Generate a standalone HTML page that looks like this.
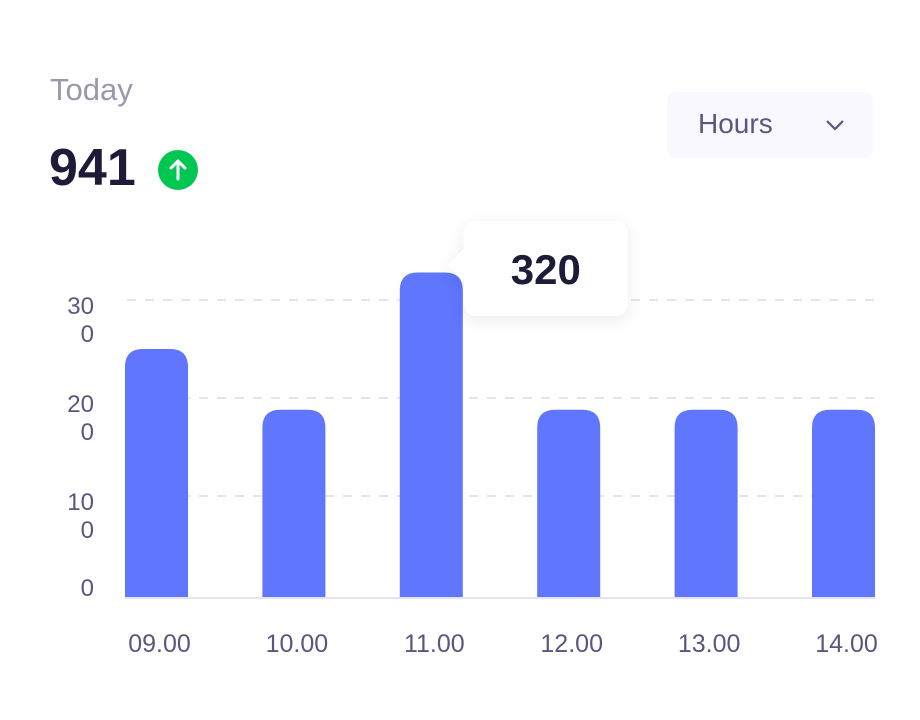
<!DOCTYPE html>
<html><head><meta charset="utf-8"><style>
body{margin:0;width:920px;height:720px;background:#fff;font-family:"Liberation Sans",sans-serif;overflow:hidden;position:relative}
.t{position:absolute}
</style></head><body>
<div class="t" style="left:50px;top:72px;font-size:31px;color:#9a98ad">Today</div>
<div class="t" style="left:49px;top:138px;font-size:52px;font-weight:bold;color:#1d1b38">941</div>
<div class="t" style="left:158px;top:150px;width:40px;height:40px;border-radius:50%;background:#00c752">
<svg width="40" height="40"><path d="M20 29V12M13 18l7-7 7 7" stroke="#fff" stroke-width="3" fill="none" stroke-linecap="round" stroke-linejoin="round"/></svg></div>
<div class="t" style="left:667px;top:92px;width:206px;height:66px;border-radius:9px;background:#f8f8fe">
<span style="position:absolute;left:31px;top:16px;font-size:28px;color:#5b5680">Hours</span>
<svg style="position:absolute;left:158px;top:26px" width="20" height="14"><path d="M2 3l8 8 8-8" stroke="#5b5680" stroke-width="2.2" fill="none"/></svg></div>
<svg id="c" class="t" style="left:0;top:0" width="920" height="720"></svg>
<script>
const categories=["09.00","10.00","11.00","12.00","13.00","14.00"];
const values=[250,188,328,188,188,188];
const yTicks=[0,100,200,300];
const yTickLabels=[["0"],["10","0"],["20","0"],["30","0"]];
const tooltipValue="320";
const tooltipIndex=2;
const NS="http://www.w3.org/2000/svg",svg=document.getElementById('c');
const base=598,zero=594,k=0.98;
const y=v=>zero-v*k;
const xs=i=>125+i*137.4;
const bw=63;
function mk(t,a,p){const e=document.createElementNS(NS,t);for(const n in a)e.setAttribute(n,a[n]);(p||svg).appendChild(e);return e;}
yTicks.forEach((t,i)=>{
 if(t>0){const l=mk('line',{x1:127,x2:875,y1:y(t),y2:y(t),stroke:'#e4e3ee','stroke-width':2,'stroke-dasharray':'9 9'});
 
 }
 const lab=yTickLabels[i];
 lab.forEach((s,j)=>{const tx=mk('text',{x:94,y:y(t)+(lab.length==1?2:14)+j*28,'text-anchor':'end','font-size':24,fill:'#5b5680','font-family':'Liberation Sans'});tx.textContent=s;
 
 });
});
values.forEach((v,i)=>{
 const x=xs(i),top=y(v),r=18;
 const p=mk('path',{d:`M${x} ${base}V${top+r}Q${x} ${top} ${x+r} ${top}H${x+bw-r}Q${x+bw} ${top} ${x+bw} ${top+r}V${base}Z`,fill:'#5f76fd'});
 
 
 const tx=mk('text',{x:x+bw/2+3,y:652,'text-anchor':'middle','font-size':25,fill:'#5b5680','font-family':'Liberation Sans'});tx.textContent=categories[i];
 
 
});
const ax=mk('line',{x1:125,x2:875,y1:base,y2:base,stroke:'#e4e3ee','stroke-width':2});


const defs=mk('defs',{});const f=mk('filter',{id:'sh',x:'-20%',y:'-20%',width:'140%',height:'150%'},defs);
mk('feDropShadow',{dx:0,dy:4,stdDeviation:8,'flood-color':'#000','flood-opacity':0.08},f);
const tx0=xs(tooltipIndex)+bw+1,ty=221;
const g=mk('g',{filter:'url(#sh)'});


mk('path',{d:`M${tx0+14} ${ty}H${tx0+150}Q${tx0+164} ${ty} ${tx0+164} ${ty+14}V${ty+81}Q${tx0+164} ${ty+95} ${tx0+150} ${ty+95}H${tx0+14}Q${tx0} ${ty+95} ${tx0} ${ty+81}V${ty+60}L${tx0-16} ${ty+44}L${tx0} ${ty+28}V${ty+14}Q${tx0} ${ty} ${tx0+14} ${ty}Z`,fill:'#fff'},g);
const tt=mk('text',{x:tx0+82,y:ty+63,'text-anchor':'middle','font-size':42,'font-weight':'bold',fill:'#1d1b38','font-family':'Liberation Sans'},g);tt.textContent=tooltipValue;
</script>
</body></html>
